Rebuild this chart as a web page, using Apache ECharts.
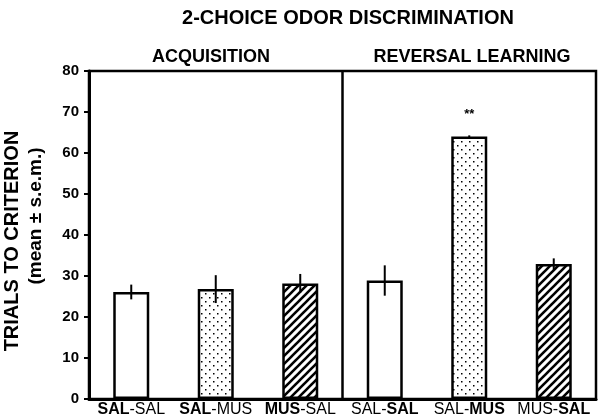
<!DOCTYPE html>
<html>
<head>
<meta charset="utf-8">
<script src="https://cdn.jsdelivr.net/npm/echarts@6/dist/echarts.min.js"></script>
<style>
  html, body { margin: 0; padding: 0; background: #fff; }
  #chart { width: 600px; height: 420px; }
</style>
</head>
<body>
<div id="chart"></div>
<script>
// data
const categories = ["SAL-SAL", "SAL-MUS", "MUS-SAL", "SAL-SAL", "SAL-MUS", "MUS-SAL"];
const boldSide = [0, 0, 0, 1, 1, 1]; // which half of the label is bold
const means = [26.1, 26.8, 28.2, 28.9, 64.0, 32.9];
const sems = [1.8, 3.4, 2.3, 3.7, 0.3, 1.4];
const sigMarks = ["", "", "", "", "**", ""];
const yTicks = [0, 10, 20, 30, 40, 50, 60, 70, 80];
const panelSplit = 3; // first category of the reversal panel

const FONT = "Liberation Sans, Arial, sans-serif";

// fill patterns
function dotPattern() {
  const c = document.createElement("canvas");
  c.width = 8; c.height = 8;
  const ctx = c.getContext("2d");
  ctx.fillStyle = "#fff";
  ctx.fillRect(0, 0, 8, 8);
  ctx.fillStyle = "#000";
  ctx.fillRect(1, 1, 1.5, 1.5);
  ctx.fillRect(5, 5, 1.5, 1.5);
  return c;
}
function hatchPattern() {
  const c = document.createElement("canvas");
  c.width = 8; c.height = 8;
  const ctx = c.getContext("2d");
  ctx.fillStyle = "#fff";
  ctx.fillRect(0, 0, 8, 8);
  ctx.strokeStyle = "#000";
  ctx.lineWidth = 2.6;
  [[-4, 4, 4, -4], [0, 8, 8, 0], [4, 12, 12, 4]].forEach(([a, b, c2, d]) => {
    ctx.beginPath(); ctx.moveTo(a, b); ctx.lineTo(c2, d); ctx.stroke();
  });
  return c;
}
const fills = ["#fff", { image: dotPattern(), repeat: "repeat" }, { image: hatchPattern(), repeat: "repeat" }];

const myChart = echarts.init(document.getElementById("chart"), null, { renderer: "canvas" });

const option = {
  backgroundColor: "#fff",
  animation: false,
  textStyle: { fontFamily: FONT },
  title: {
    text: "2-CHOICE ODOR DISCRIMINATION",
    left: 343, top: 3, textAlign: "center",
    textStyle: { fontFamily: FONT, fontWeight: "bold", fontSize: 20, color: "#000" }
  },
  graphic: [
    { type: "text", x: 211, y: 57, style: { text: "ACQUISITION", font: "bold 18px " + FONT, fill: "#000", align: "center", verticalAlign: "middle" } },
    { type: "text", x: 472, y: 57, style: { text: "REVERSAL LEARNING", font: "bold 18px " + FONT, fill: "#000", align: "center", verticalAlign: "middle" } },
    { type: "text", x: 12, y: 241, rotation: Math.PI / 2, style: { text: "TRIALS TO CRITERION", font: "bold 20px " + FONT, fill: "#000", align: "center", verticalAlign: "middle" } },
    { type: "text", x: 36, y: 216, rotation: Math.PI / 2, style: { text: "(mean \u00b1 s.e.m.)", font: "bold 19px " + FONT, fill: "#000", align: "center", verticalAlign: "middle" } }
  ],
  grid: {
    left: 89, right: 4, top: 71, bottom: 21,
    show: true, borderColor: "#000", borderWidth: 2.5, backgroundColor: "transparent"
  },
  xAxis: {
    type: "category",
    data: categories,
    axisLine: { lineStyle: { color: "#000", width: 3 } },
    axisTick: { show: false },
    axisLabel: {
      interval: 0, margin: 3, color: "#000",
      formatter: (v, i) => {
        const [a, b] = v.split("-");
        return boldSide[i] === 0 ? "{b|" + a + "}{n|-" + b + "}" : "{n|" + a + "-}{b|" + b + "}";
      },
      rich: {
        b: { fontFamily: FONT, fontWeight: "bold", fontSize: 16, color: "#000" },
        n: { fontFamily: FONT, fontWeight: "normal", fontSize: 16, color: "#000" }
      }
    }
  },
  yAxis: {
    type: "value",
    min: yTicks[0], max: yTicks[yTicks.length - 1], interval: 10,
    axisLine: { show: true, lineStyle: { color: "#000", width: 3 } },
    axisTick: { show: true, length: 5, lineStyle: { color: "#000", width: 2 } },
    splitLine: { show: false },
    axisLabel: { color: "#000", fontFamily: FONT, fontWeight: "bold", fontSize: 15, margin: 10 }
  },
  series: [
    {
      type: "bar",
      barWidth: 36,
      data: means.map((m, i) => ({
        value: m,
        itemStyle: { color: fills[i % 3], borderColor: "#000", borderWidth: 2.5 }
      }))
    },
    {
      type: "custom",
      z: 5,
      clip: false,
      data: means.map((m, i) => [i, m, sems[i]]),
      renderItem: (params, api) => {
        const i = api.value(0), m = api.value(1), s = api.value(2);
        const lo = api.coord([i, m - s]);
        const hi = api.coord([i, m + s]);
        const children = [{
          type: "line",
          shape: { x1: lo[0], y1: lo[1], x2: hi[0], y2: hi[1] },
          style: { stroke: "#000", lineWidth: 2 }
        }];
        if (sigMarks[i]) {
          children.push({
            type: "text",
            style: { text: sigMarks[i], x: hi[0], y: hi[1] - 21, align: "center", verticalAlign: "middle", font: "bold 13px " + FONT, fill: "#000" }
          });
        }
        if (i === panelSplit) {
          // divider between the two panels, halfway between neighbouring categories
          const a = api.coord([i - 1, yTicks[0]]);
          const b = api.coord([i, yTicks[yTicks.length - 1]]);
          const x = (a[0] + b[0]) / 2;
          children.push({
            type: "line",
            shape: { x1: x, y1: a[1], x2: x, y2: b[1] },
            style: { stroke: "#000", lineWidth: 2.5 }
          });
        }
        return { type: "group", children };
      }
    }
  ]
};

myChart.setOption(option);
</script>
</body>
</html>
